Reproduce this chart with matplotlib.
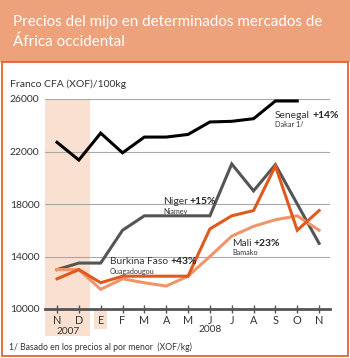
import matplotlib
matplotlib.use("Agg")
import matplotlib.pyplot as plt
from matplotlib.patches import Rectangle

plt.rcParams['font.family'] = ['Lato', 'DejaVu Sans']

months = ["N", "D", "E", "F", "M", "A", "M", "J", "J", "A", "S", "O", "N"]
senegal = [22700, 21350, 23400, 21900, 23100, 23100, 23300, 24250, 24300, 24500, 25850, 25850]
niger = [13000, 13500, 13500, 16000, 17100, 17100, 17100, 17100, 21050, 19000, 21000, 18000, 15000]
burkina = [12300, 13000, 12000, 12500, 12500, 12500, 12500, 16100, 17100, 17500, 20900, 16000, 17500]
mali = [13000, 13000, 11500, 12300, 12000, 11750, 12500, 14000, 15550, 16300, 16800, 17100, 16000]
yticks = [10000, 14000, 18000, 22000, 26000]

band = "#EEA27C"
border = "#E8622E"
shade = "#F9E0D1"
dark_or = "#E05A1E"
light_or = "#F0956A"
txt = "#333333"

W, H = 350, 358
fig = plt.figure(figsize=(3.5, 3.58), dpi=100)

# title band and frame
fig.patches.append(Rectangle((0, 1 - 62 / H), 1, 62 / H, transform=fig.transFigure,
                             facecolor=band, edgecolor="none", zorder=0))
fig.patches.append(Rectangle((2 / W, 2 / H), 346 / W, (H - 64) / H, transform=fig.transFigure,
                             facecolor="none", edgecolor=border, linewidth=1.3, zorder=1))
fig.text(13 / W, 1 - 22 / H, "Precios del mijo en determinados mercados de", color="white",
         fontsize=10.9, va="center", ha="left")
fig.text(13 / W, 1 - 42 / H, "África occidental", color="white",
         fontsize=10.9, va="center", ha="left")

ax = fig.add_axes([45 / W, 1 - 309 / H, 285 / W, 210 / H])
x = list(range(len(months)))
ax.set_xlim(-0.55, 12.5)
ax.set_ylim(10000, 26000)

ax.axvspan(-0.55, 1.5, ymin=-0.129, ymax=1, facecolor=shade, edgecolor="none",
           clip_on=False, zorder=0)
for yv in yticks[1:]:
    ax.axhline(yv, color="#A8A8A8", lw=0.8, zorder=1)
ax.axhline(10000, color="#555555", lw=2, zorder=5, clip_on=False)

ax.plot(x[:len(senegal)], senegal, color="black", lw=2.2, zorder=4, solid_joinstyle="miter")
ax.plot(x, niger, color="#555555", lw=2.2, zorder=3, solid_joinstyle="miter")
ax.plot(x, mali, color=light_or, lw=2.2, zorder=3, solid_joinstyle="miter")
ax.plot(x, burkina, color=dark_or, lw=2.2, zorder=4, solid_joinstyle="miter")

for s in ax.spines.values():
    s.set_visible(False)
ax.set_yticks(yticks)
ax.set_yticklabels([str(v) for v in yticks], fontsize=7.5, color=txt)
ax.tick_params(axis="y", length=0, pad=4)
ax.set_xticks(x)
ax.set_xticklabels(months, fontsize=7.8, color=txt)
ax.tick_params(axis="x", length=6, width=1, color="#555555", direction="inout", pad=1)
ax.get_xticklabels()[2].set_bbox(dict(facecolor=shade, edgecolor="none", pad=2.5))

fig.text(68 / W, 1 - 331 / H, "2007", ha="center", va="center", fontsize=7.3, color=txt)
fig.text(210 / W, 1 - 330 / H, "2008", ha="center", va="center", fontsize=7.3, color=txt)

# series labels: name + bold change, city below
fig.canvas.draw()
def label(xp, yp, name, pct, city):
    t = fig.text(xp / W, 1 - yp / H, name, fontsize=7.4, color=txt, va="center", ha="left")
    bb = t.get_window_extent(renderer=fig.canvas.get_renderer())
    fig.text((bb.x1 + 2) / W, 1 - yp / H, pct, fontsize=7.4, color="#222222",
             fontweight="bold", va="center", ha="left")
    fig.text(xp / W, 1 - (yp + 9.5) / H, city, fontsize=5.2, color=txt, va="center", ha="left")

label(275, 115, "Senegal", "+14%", "Dakar 1/")
label(163, 202, "Niger", "+15%", "Niamey")
label(110, 262, "Burkina Faso", "+43%", "Ouagadougou")
label(232, 243, "Mali", "+23%", "Bamako")

fig.text(10 / W, 1 - 84 / H, "Franco CFA (XOF)/100kg", fontsize=7.5, color=txt, va="center")
fig.text(9 / W, 1 - 347 / H, "1/ Basado en los precios al por menor  (XOF/kg)", fontsize=6.2,
         color=txt, va="center")

fig.savefig("out.png", dpi=100)
